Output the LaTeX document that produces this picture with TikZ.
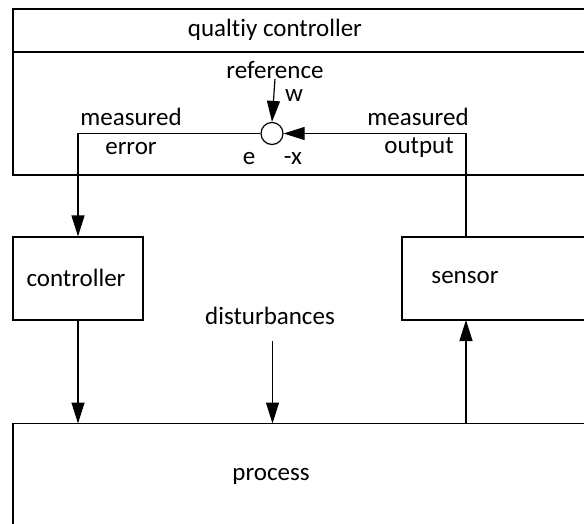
\documentclass[tikz,border=0pt]{standalone}
\usepackage{fontspec}
\setmainfont[Ligatures=NoCommon]{Carlito}
\usetikzlibrary{arrows.meta,calc}
\tikzset{
    box/.style={draw, line width=1.2pt},
    lbl/.style={font=\fontsize{25}{29}\selectfont, inner sep=0pt},
    flow/.style={line width=1.2pt, -{Triangle[length=21pt,width=13pt]}},
  }

\begin{document}
\begin{tikzpicture}[x=1pt,y=-1pt]
				  \useasboundingbox (0,0) rectangle (584,524);
				  \clip (0,0) rectangle (584,524);
				  %quality controller
				  \draw[box] (13,9) rectangle (640,52);
				  \draw[box] (13,52) rectangle (640,175);
				  \node[lbl] (qc) at (275,30) {qualtiy controller};
				  
				  \node[draw, circle, line width=1.2pt, minimum size=22, inner sep=0pt] (sum) at (272,133.5) {};
				  \node[lbl] (ref) at (275,70) {reference};
				  \node[lbl] (w) at (294,96) {w};
				  \node[lbl] (e) at (249,159) {e};
				  \node[lbl] (x) at (293,159) {-x};
				  \node[lbl] (merr) at (131,117) {measured};
				  \node[lbl] (err) at (131,149) {error};
				  \node[lbl] (mout) at (418,117) {measured};
				  \node[lbl] (out) at (419,148) {output};
				  
				  %blocks
				  \node[box, minimum width=130, minimum height=83, inner sep=0pt] (ctrl) at (78,278.5) {};
				  \node[lbl] (ctrllbl) at (76,278) {controller};
				  \draw[box] (402,237) rectangle (640,320);
				  \node[lbl] (sens) at (465,278) {sensor};
				  \coordinate (senstop) at (466,237);
				  \coordinate (sensbot) at (466,320);
				  \draw[box] (13,423.5) rectangle (640,560);
				  \coordinate (proc) at (13,423.5);
				  \node[lbl] (proclbl) at (271,476) {process};
				  \node[lbl] (dist) at (270,316) {disturbances};
				  \coordinate (dstart) at (272.5,341);
				  
				  %connectors
				  \draw[flow] (ref.south) -- (sum.north);
				  \draw[flow] (sum.west) -| (ctrl.north);
				  \draw[flow] (senstop) |- (sum.east);
				  \draw[flow] (ctrl.south) -- (ctrl.south |- proc);
				  \draw[flow] (dstart) -- (dstart |- proc);
				  \draw[flow] (sensbot |- proc) -- (sensbot);
				  \end{tikzpicture}
\end{document}
